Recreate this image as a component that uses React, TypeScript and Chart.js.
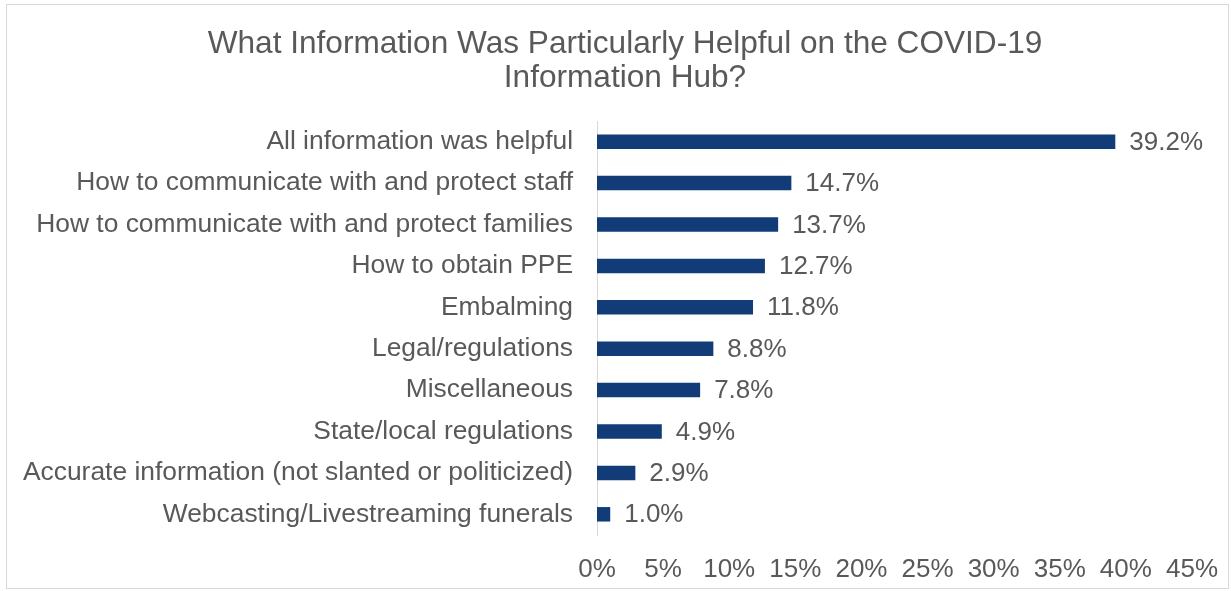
import React, { useEffect, useRef } from "react";
import { Chart, registerables } from "chart.js";

Chart.register(...registerables);

const titleLines = ["What Information Was Particularly Helpful on the COVID-19", "Information Hub?"];
const categories = [
  "All information was helpful",
  "How to communicate with and protect staff",
  "How to communicate with and protect families",
  "How to obtain PPE",
  "Embalming",
  "Legal/regulations",
  "Miscellaneous",
  "State/local regulations",
  "Accurate information (not slanted or politicized)",
  "Webcasting/Livestreaming funerals",
];
const values = [39.2, 14.7, 13.7, 12.7, 11.8, 8.8, 7.8, 4.9, 2.9, 1.0];
const xTicks = [0, 5, 10, 15, 20, 25, 30, 35, 40, 45];

const FONT = "'Liberation Sans', Arial, sans-serif";
const TEXT = "#595959";
const BAR = "#113C78";

const dataLabels = {
  id: "dataLabels",
  afterDatasetsDraw(chart: any) {
    const ctx = chart.ctx;
    const meta = chart.getDatasetMeta(0);
    ctx.save();
    ctx.font = `26px ${FONT}`;
    ctx.fillStyle = TEXT;
    ctx.textAlign = "left";
    ctx.textBaseline = "middle";
    meta.data.forEach((el: any, i: number) => {
      ctx.fillText(values[i].toFixed(1) + "%", el.x + 14, el.y + 1);
    });
    ctx.restore();
  },
};

const frameAndTitle = {
  id: "frameAndTitle",
  beforeDraw(chart: any) {
    const ctx = chart.ctx;
    ctx.save();
    ctx.fillStyle = "#ffffff";
    ctx.fillRect(0, 0, chart.width, chart.height);
    ctx.strokeStyle = "#d9d9d9";
    ctx.lineWidth = 1;
    ctx.strokeRect(6.5, 4.5, chart.width - 9, chart.height - 7);
    ctx.restore();
  },
  afterDraw(chart: any) {
    const ctx = chart.ctx;
    ctx.save();
    ctx.font = `31.6px ${FONT}`;
    ctx.fillStyle = TEXT;
    ctx.textAlign = "center";
    ctx.textBaseline = "middle";
    titleLines.forEach((t, i) => ctx.fillText(t, 625, 44 + i * 34));
    ctx.restore();
  },
};

export default function App() {
  const ref = useRef<HTMLCanvasElement>(null);
  useEffect(() => {
    document.body.style.margin = "0";
    const chart = new Chart(ref.current!, {
      type: "bar",
      data: {
        labels: categories,
        datasets: [
          {
            data: values,
            backgroundColor: BAR,
            barPercentage: 0.35,
            categoryPercentage: 1,
          },
        ],
      },
      options: {
        indexAxis: "y",
        animation: false,
        responsive: false,
        maintainAspectRatio: false,
        layout: { padding: { left: 0, right: 39, top: 121, bottom: 0 } },
        plugins: {
          legend: { display: false },
          tooltip: { enabled: false },
          title: { display: false },
        },
        scales: {
          x: {
            min: 0,
            max: 45,
            afterBuildTicks(scale: any) {
              scale.ticks = xTicks.map((v) => ({ value: v }));
            },
            afterFit(scale: any) {
              scale.height = 56;
            },
            grid: { display: false },
            border: { display: false },
            ticks: {
              color: TEXT,
              font: { family: FONT, size: 26 },
              padding: 11,
              maxRotation: 0,
              callback: (v: any) => v + "%",
            },
          },
          y: {
            afterFit(scale: any) {
              scale.width = 597;
            },
            grid: { display: false },
            border: { display: true, color: "#d9d9d9", width: 1 },
            ticks: {
              color: TEXT,
              font: { family: FONT, size: 26.4 },
              padding: 16,
            },
          },
        },
      },
      plugins: [frameAndTitle, dataLabels],
    } as any);
    return () => chart.destroy();
  }, []);
  return (
    <div style={{ width: 1231, height: 591 }}>
      <canvas ref={ref} width={1231} height={591} style={{ display: "block" }} />
    </div>
  );
}
